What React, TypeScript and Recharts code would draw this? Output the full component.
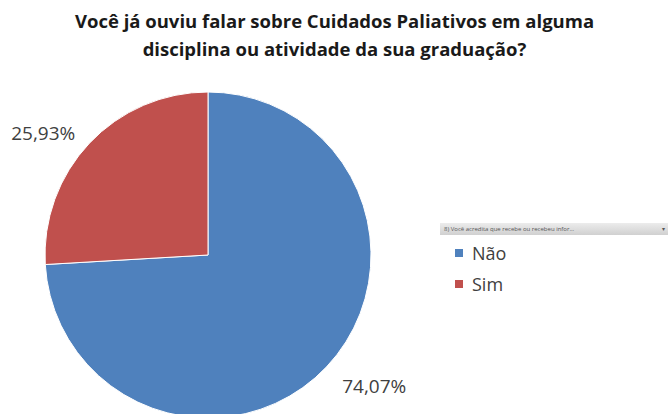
import React from 'react';
import { PieChart, Pie, Cell, Legend } from 'recharts';

const categories = ['Não', 'Sim'];
const values = [74.07, 25.93];
const labels = ['74,07%', '25,93%'];
const colors = ['#4F81BD', '#C0504D'];
const titleLines = [
  'Você já ouviu falar sobre Cuidados Paliativos em alguma',
  'disciplina ou atividade da sua graduação?',
];
const filterText = '8) Você acredita que recebe ou recebeu infor...';

const data = categories.map((name, i) => ({ name, value: values[i], label: labels[i] }));

const FONT = '"Open Sans", "Noto Sans", sans-serif';

const RADIAN = Math.PI / 180;
const renderLabel = (props: any) => {
  const { cx, cy, midAngle, outerRadius, index } = props;
  const angleShift = index === 0 ? 5.0 : 6.8;
  const distFactor = index === 0 ? 1.3 : 1.258;
  const a = (midAngle + angleShift) * RADIAN;
  const r = outerRadius * distFactor;
  const x = cx + r * Math.cos(a);
  const y = cy - r * Math.sin(a);
  return (
    <text
      x={x}
      y={y}
      textAnchor="middle"
      dominantBaseline="central"
      fill="#404040"
      fontSize={19}
      fontFamily={FONT}
    >
      {data[index].label}
    </text>
  );
};

const LegendContent = () => (
  <div style={{ fontFamily: FONT }}>
    <div
      style={{
        width: 228,
        height: 12,
        background: 'linear-gradient(#ececec, #d0d0d0)',
        fontSize: 6,
        lineHeight: '12px',
        color: '#555',
        paddingLeft: 4,
        boxSizing: 'border-box',
        whiteSpace: 'nowrap',
        overflow: 'hidden',
        position: 'relative',
      }}
    >
      {filterText}
      <span style={{ position: 'absolute', right: 3, top: 0 }}>▾</span>
    </div>
    {data.map((d, i) => (
      <div
        key={d.name}
        style={{ display: 'flex', alignItems: 'center', height: 31, marginTop: i === 0 ? 2 : 0, paddingLeft: 15 }}
      >
        <span style={{ width: 8, height: 8, background: colors[i], display: 'inline-block', marginRight: 9 }} />
        <span style={{ fontSize: 18, color: '#404040' }}>{d.name}</span>
      </div>
    ))}
  </div>
);

export default function App() {
  return (
    <div style={{ position: 'absolute', left: 0, top: 0, width: 669, height: 414, background: '#fff', overflow: 'hidden' }}>
      <div
        style={{
          position: 'absolute',
          left: 0,
          top: 7,
          width: 669,
          textAlign: 'center',
          fontFamily: FONT,
          fontWeight: 700,
          fontSize: 18.5,
          lineHeight: '28px',
          color: '#1a1a1a',
          zIndex: 2,
        }}
      >
        {titleLines.map((t) => (
          <div key={t}>{t}</div>
        ))}
      </div>
      <PieChart width={669} height={414} margin={{ top: 0, right: 0, bottom: 0, left: 0 }}>
        <Pie
          data={data}
          dataKey="value"
          nameKey="name"
          cx={208}
          cy={255}
          outerRadius={163}
          startAngle={90}
          endAngle={-270}
          stroke="#ffffff"
          strokeWidth={1}
          label={renderLabel}
          labelLine={false}
          isAnimationActive={false}
        >
          {data.map((d, i) => (
            <Cell key={d.name} fill={colors[i]} />
          ))}
        </Pie>
        <Legend
          content={<LegendContent />}
          layout="vertical"
          wrapperStyle={{ left: 440, top: 223, width: 228 }}
        />
      </PieChart>
    </div>
  );
}
